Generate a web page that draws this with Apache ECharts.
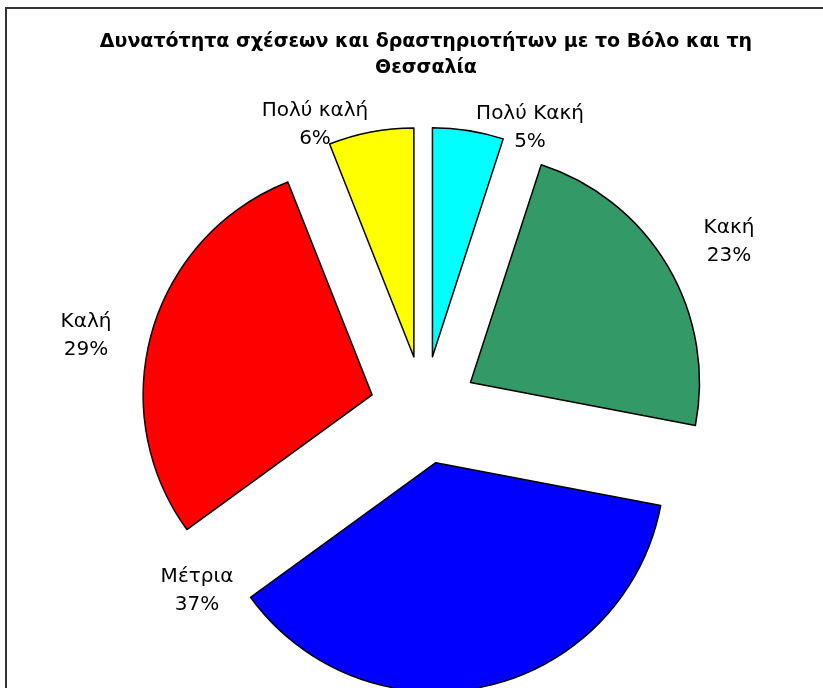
<!DOCTYPE html>
<html>
<head>
<meta charset="utf-8">
<script src="https://cdn.jsdelivr.net/npm/echarts@6/dist/echarts.min.js"></script>
<style>
  html, body { margin: 0; padding: 0; background: #fff; }
  #main { width: 823px; height: 688px; }
</style>
</head>
<body>
<div id="main"></div>
<script>
// categories, clockwise from 12 o'clock
var categories = ['Πολύ Κακή', 'Κακή', 'Μέτρια', 'Καλή', 'Πολύ καλή'];
var shares = [5, 23, 37, 29, 6];
var sliceColors = ['#00FFFF', '#339966', '#0000FF', '#FF0000', '#FFFF00'];

// where Excel put the labels (text centres)
var labelXY = [[530, 128], [729, 242], [197, 591], [86, 336], [315, 125]];

var chart = echarts.init(document.getElementById('main'));

var total = 0;
for (var k = 0; k < shares.length; k++) total += shares[k];

var data = [];
var labels = [];
for (var i = 0; i < categories.length; i++) {
    data.push({
        name: categories[i],
        value: shares[i],
        selected: true,
        itemStyle: { color: sliceColors[i] }
    });
    // the exploded slices drag their labels along, so the labels are placed on their own
    labels.push({
        type: 'text',
        x: labelXY[i][0],
        y: labelXY[i][1],
        silent: true,
        style: {
            text: categories[i] + '\n' + Math.round(shares[i] / total * 100) + '%',
            fontFamily: 'DejaVu Sans',
            fontSize: 20,
            lineHeight: 28,
            fill: '#000',
            align: 'center',
            verticalAlign: 'middle'
        }
    });
}

var option = {
    animation: false,
    backgroundColor: '#fff',
    title: {
        text: 'Δυνατότητα σχέσεων και δραστηριοτήτων με το Βόλο και τη\nΘεσσαλία',
        left: 421,
        top: 24,
        textAlign: 'center',
        textStyle: {
            fontFamily: 'DejaVu Sans',
            fontSize: 19,
            fontWeight: 'bold',
            lineHeight: 26,
            color: '#000'
        }
    },
    graphic: [{
        type: 'rect',
        shape: { x: 6, y: 8, width: 840, height: 700 },
        style: { fill: 'none', stroke: '#333', lineWidth: 2 },
        silent: true
    }].concat(labels),
    series: [{
        type: 'pie',
        center: [424, 410],
        radius: [0, 229],
        startAngle: 90,
        clockwise: true,
        selectedMode: 'multiple',
        selectedOffset: 54,
        data: data,
        itemStyle: { borderColor: '#000', borderWidth: 1.5 },
        select: { itemStyle: { borderColor: '#000', borderWidth: 1.5 } },
        emphasis: { disabled: true },
        label: { show: false },
        labelLine: { show: false }
    }]
};

chart.setOption(option);
</script>
</body>
</html>
